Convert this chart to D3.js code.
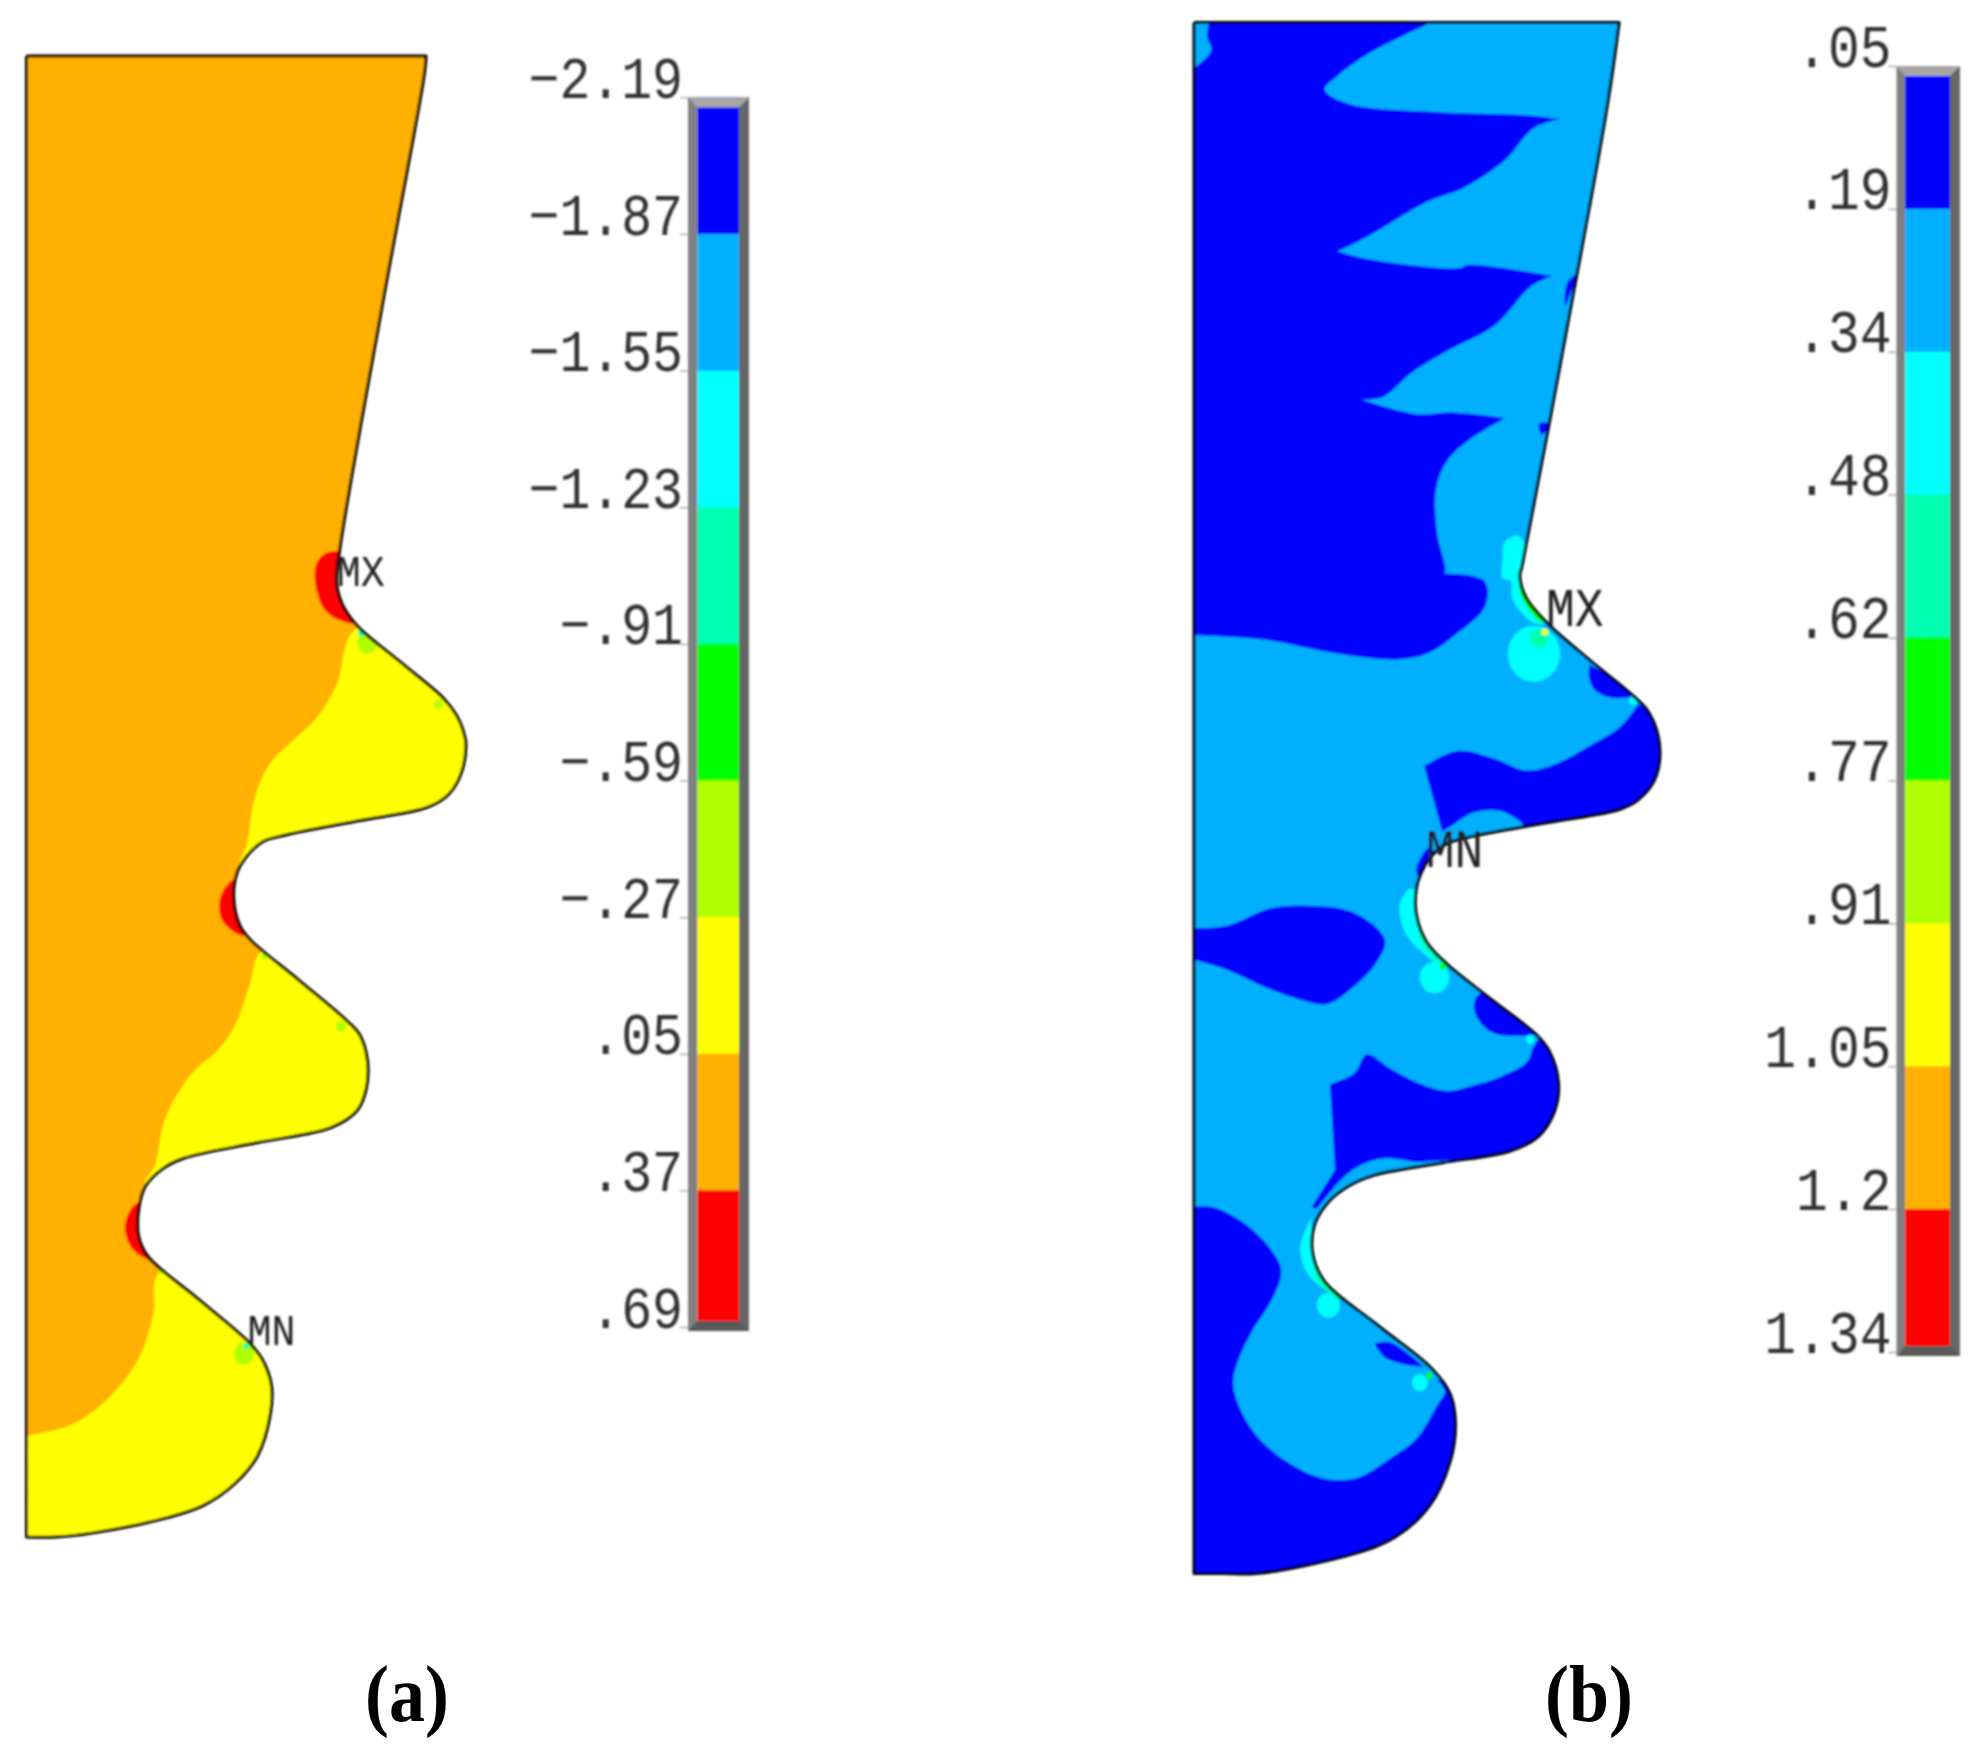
<!DOCTYPE html>
<html><head><meta charset="utf-8">
<style>html,body{margin:0;padding:0;background:#fff}svg{display:block}</style>
<script src="https://cdn.jsdelivr.net/npm/d3@7/dist/d3.min.js"></script>
</head><body><div id="c"></div>
<script>
// ---- legend data
const bandColors=["#0000ff","#00b0ff","#00ffff","#00ffb0","#00ff00","#b0ff00","#ffff00","#ffb000","#ff0000"];
const levelsA=["\u22122.19","\u22121.87","\u22121.55","\u22121.23","\u2212.91","\u2212.59","\u2212.27",".05",".37",".69"];
const levelsB=[".05",".19",".34",".48",".62",".77",".91","1.05","1.2","1.34"];
// ---- model geometry: u = horizontal model unit (0..1568 per panel), v = vertical model unit
// "Lo" arrays are measured from the mid-section (v offset added by low()). Repeated points are sharp corners.
const C=(x,y)=>[[x,y],[x,y],[x,y]];
const outlineATop=[...C(52,100),...C(835,100),[832,130],[750,540],[665,985],[660,1040],[670,1075],[700,1115],[785,1180],[870,1245],[895,1275],[907,1300],[913,1325],[905,1375],[880,1415],[840,1438],[700,1463],[560,1488],[515,1500],[480,1530]];
const outlineALo=[[465,0],[458,45],[470,95],[490,120],[585,192],[680,265],[705,290],[720,335],[718,385],[700,425],[650,455],[505,482],[360,510],[320,528],[285,560],[272,600],[272,650],[290,685],[390,762],[490,840],[515,870],[532,915],[530,965],[505,1040],[460,1090],[400,1128],[330,1150],[180,1178],[110,1185],...C(52,1185)];
const yellowA1=[[700,1118],[660,1220],[620,1280],[580,1315],[530,1360],[500,1420],[485,1500],[470,1560],...C(1000,1560),...C(1000,1118)];
const yellowA2Lo=[[515,140],[490,200],[465,265],[430,315],[380,355],[345,400],[320,450],[305,520],[285,560],...C(800,560),...C(800,140)];
const yellowA3Lo=[[315,710],[300,790],[270,870],[210,940],[140,985],[52,1005],...C(20,1010),...C(20,1300),...C(600,1300),...C(600,710)];
const redA1=[[640,985],[620,1005],[618,1040],[635,1085],[665,1105],[695,1112],...C(720,1112),...C(720,985)];
const redA2Lo=[[460,12],[432,45],[435,85],[470,112],...C(520,112),...C(520,12)];
const redA3Lo=[[268,590],[245,630],[258,670],[295,692],...C(340,692),...C(340,590)];
// spots: u, v, radius(u), band index
const spotsA=[[720,1145,20,5],[860,1255,9,5],[708,1128,6,3]];
const spotsALo=[[518,150,6,5],[668,275,10,5],[478,858,20,5],[482,845,5,3],[315,712,4,5]];

const outlineBTop=[...C(65,40),...C(878,40),[855,190],[775,600],[692,1010],[688,1025],[700,1065],[740,1110],[820,1175],[905,1240],[935,1270],[955,1325],[948,1385],[915,1425],[880,1442],[740,1466],[600,1490],[545,1505],[515,1530]];
const outlineBLo=[[500,0],[490,30],[490,75],[510,125],[550,165],[635,228],[720,290],[745,320],[762,375],[755,425],[725,470],[670,497],[540,518],[410,540],[360,560],[320,590],[295,630],[292,680],[315,730],[417,808],[520,885],[555,930],[565,985],[555,1050],[515,1130],[450,1185],[370,1215],[185,1250],[120,1250],...C(65,1250)];
const blueB1=[...C(60,35),...C(530,35),[400,95],[340,135],[315,160],[360,185],[530,200],[690,205],...C(765,212),[715,228],[660,285],[580,335],[510,360],[400,420],...C(340,448),[400,462],[570,478],[590,472],...C(750,492),[710,510],[640,580],[550,625],[480,665],[425,708],...C(385,712),[490,738],[560,735],...C(660,745),[590,785],[550,820],[528,870],[530,950],[545,1020],...C(535,1022),[620,1035],[622,1080],[560,1135],[510,1165],[450,1175],[340,1165],[200,1140],...C(60,1132)];
const blueB2=[[778,505],[795,490],[775,545]];
const blueB3=[[725,755],[745,755],[730,775]];
const blueB4=[...C(822,1185),...C(930,1240),[860,1243],[830,1228],[820,1205]];
const blueB5=[...C(505,1365),[570,1338],[640,1352],[700,1373],[760,1360],[820,1330],[880,1295],...C(915,1255),...C(1000,1300),...C(1000,1480),...C(700,1480),[690,1465],[650,1445],[600,1448],[560,1470],...C(540,1482)];
const blueB6=[[515,1510],[490,1550],[500,1568],[530,1530]];
const blueB7Lo=[...C(60,100),[130,95],[210,65],[280,60],[370,72],[430,120],[415,160],[370,205],[320,235],[270,228],[200,205],[130,175],...C(60,155)];
const blueB8Lo=[...C(605,222),...C(620,210),...C(730,290),[640,288],[610,265],[600,240]];
const blueB9Lo=[...C(325,378),[372,358],[395,325],[440,350],[500,378],[550,390],[600,380],[650,365],[700,340],[715,310],...C(730,290),...C(800,370),...C(800,500),...C(490,517),[430,510],[385,522],[350,545],...C(300,600),...C(290,597),...C(335,530)];
const blueB10Lo=[...C(60,597),[100,597],[160,625],[210,670],[232,710],[215,760],[175,820],[150,870],[140,910],[155,960],[190,1010],[250,1055],[310,1080],[375,1080],[440,1045],[490,1010],[530,950],[545,925],...C(530,905),...C(620,930),...C(620,1300),...C(60,1300)];
const blueB11Lo=[...C(410,840),[440,838],...C(505,882),[470,878],[430,865]];
const lightB1=[...C(60,35),...C(95,35),[90,65],[98,90],...C(60,125)];
const cyanB1=[[655,1000],[660,965],[685,955],[697,970],[690,1030],[700,1060],[740,1108],[715,1110],[675,1070],[670,1035],[655,1030]];
const greenB1=[...C(686,1020),[700,1065],...C(738,1108),[728,1108],[692,1065]];
const cyanB2Lo=[...C(475,30),[458,60],[470,110],[510,150],...C(548,172),[530,155],[495,100],...C(490,30)];
const greenB2Lo=[...C(490,85),[510,130],...C(545,165),[535,165],[500,125]];
const cyanB3Lo=[...C(290,615),[268,670],[285,720],[325,750],...C(342,762),[310,725],[292,680]];
const greenB3Lo=[...C(292,680),[312,728],...C(340,755),[330,755],[298,722]];
const spotsB=[[715,1165,50,2],[725,1138,18,3],[736,1126,6,6],[905,1248,8,2]];
const spotsBLo=[[525,188,28,2],[542,168,6,4],[708,298,8,2],[322,772,22,2],[340,755,5,4],[497,910,15,2],[515,897,6,4]];

const W=1980,H=1752,VTOT=3122,LO=1554;
const svg=d3.select("#c").append("svg").attr("width",W).attr("height",H).attr("viewBox",`0 0 ${W} ${H}`);
const defs=svg.append("defs");
defs.append("filter").attr("id","soft").attr("x","-5%").attr("y","-5%").attr("width","110%").attr("height","110%")
  .append("feGaussianBlur").attr("stdDeviation",0.8);
const low=a=>a.map(p=>[p[0],p[1]+LO,...p.slice(2)]);
const yS=d3.scaleLinear().domain([0,VTOT]).range([0,H]);
const xA=d3.scaleLinear().domain([0,1568]).range([0,800]);
const xB=d3.scaleLinear().domain([0,1568]).range([1160,1980]);
const mono="'Liberation Mono','DejaVu Sans Mono',monospace";

function panel(id,x,outline,base,fills,spots,labels,labelSize){
  const line=d3.line().x(d=>x(d[0])).y(d=>yS(d[1])).curve(d3.curveCatmullRomClosed.alpha(0.5));
  defs.append("clipPath").attr("id","clip"+id).append("path").attr("d",line(outline));
  const g=svg.append("g").attr("filter","url(#soft)");
  g.append("path").attr("d",line(outline)).attr("fill",base);
  const inner=g.append("g").attr("clip-path",`url(#clip${id})`);
  inner.selectAll("path.r").data(fills).join("path").attr("class","r").attr("d",d=>line(d.pts)).attr("fill",d=>d.color);
  inner.selectAll("ellipse").data(spots).join("ellipse")
    .attr("cx",d=>x(d[0])).attr("cy",d=>yS(d[1]))
    .attr("rx",d=>x(d[0]+d[2])-x(d[0])).attr("ry",d=>yS(d[2]))
    .attr("fill",d=>bandColors[d[3]]);
  g.append("path").attr("d",line(outline)).attr("fill","none").attr("stroke","#000").attr("stroke-width",3).attr("stroke-linejoin","round");
  g.selectAll("text").data(labels).join("text").attr("transform",d=>`translate(${x(d[0])},${yS(d[1])}) scale(1,1.1)`)
    .attr("font-family",mono).attr("font-size",labelSize).attr("fill","#222").text(d=>d[2]);
}
function colorbar(levels,x0,x1,i0,i1,t0,t1,ext,bev,fs){
  const y=d3.scalePoint().domain(levels).range([t0,t1]);
  const g=svg.append("g").attr("filter","url(#soft)");
  const pairs=d3.pairs(levels);
  const b1=t1+ext;
  g.append("rect").attr("x",x0).attr("y",t0).attr("width",i0-x0).attr("height",b1-t0).attr("fill","#808080");
  g.append("rect").attr("x",i1).attr("y",t0).attr("width",x1-i1).attr("height",b1-t0).attr("fill","#666");
  g.selectAll("rect.b").data(pairs).join("rect").attr("class","b")
    .attr("x",i0).attr("width",i1-i0).attr("y",d=>y(d[0])).attr("height",(d,i)=>y(d[1])-y(d[0])+(i==pairs.length-1?ext:0.5))
    .attr("fill",(d,i)=>bandColors[i]);
  g.append("polygon").attr("points",[[x0,t0],[x1,t0],[i1,t0+bev],[i0,t0+bev]].join(" ")).attr("fill","#a6a6a6");
  g.append("polygon").attr("points",[[x0,b1],[x1,b1],[i1,b1-bev],[i0,b1-bev]].join(" ")).attr("fill","#5a5a5a");
  const ax=g.append("g").attr("transform",`translate(${x0},0)`).call(d3.axisLeft(y).tickSize(8).tickPadding(0));
  ax.select(".domain").remove();
  ax.selectAll("line").attr("stroke","#aaa").attr("stroke-width",1.5);
  ax.selectAll("text").attr("dy",null).attr("x",null).attr("y",null).attr("transform",`translate(-5,0) scale(1,1.14)`)
    .attr("font-family",mono).attr("font-size",fs).attr("fill","#333").attr("text-anchor","end");
}

panel("A",xA,outlineATop.concat(low(outlineALo)),bandColors[7],
 [{pts:yellowA1,color:bandColors[6]},{pts:low(yellowA2Lo),color:bandColors[6]},{pts:low(yellowA3Lo),color:bandColors[6]},
  {pts:redA1,color:bandColors[8]},{pts:low(redA2Lo),color:bandColors[8]},{pts:low(redA3Lo),color:bandColors[8]}],
 spotsA.concat(low(spotsALo)),
 [[660,1045,"MX"],[485,LO+842,"MN"]],40);
panel("B",xB,outlineBTop.concat(low(outlineBLo)),bandColors[1],
 [blueB1,blueB2,blueB3,blueB4,blueB5,blueB6,low(blueB7Lo),low(blueB8Lo),low(blueB9Lo),low(blueB10Lo),low(blueB11Lo)].map(p=>({pts:p,color:bandColors[0]}))
 .concat([{pts:lightB1,color:bandColors[1]},{pts:cyanB1,color:bandColors[2]},{pts:low(cyanB2Lo),color:bandColors[2]},{pts:low(cyanB3Lo),color:bandColors[2]},
  {pts:greenB1,color:bandColors[4]},{pts:low(greenB2Lo),color:bandColors[3]},{pts:low(greenB3Lo),color:bandColors[3]}]),
 spotsB.concat(low(spotsBLo)),
 [[738,1115,"MX"],[508,1545,"MN"]],48);

colorbar(levelsA,688,749,697.5,739,97.4,1327,4,10,51.5);
colorbar(levelsB,1896.5,1960,1905,1950,66,1352,4,10,53);

const cap=svg.selectAll("text.cap").data([[407,"(a)"],[1589,"(b)"]]).join("text").attr("class","cap")
  .attr("transform",d=>`translate(${d[0]},1721) scale(1,1.12)`).attr("text-anchor","middle")
  .attr("font-family","'Liberation Serif',serif").attr("font-weight","bold").attr("font-size",72).attr("fill","#000").text(d=>d[1]);
</script></body></html>
